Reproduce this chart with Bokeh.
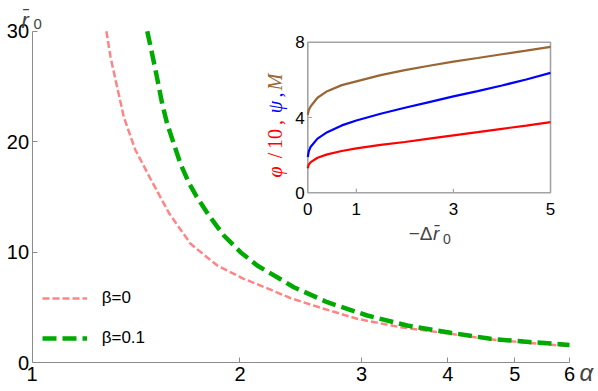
import numpy as np
from bokeh.plotting import figure
from bokeh.models import (Range1d, LinearScale, FixedTicker, PrintfTickFormatter,
                          Legend, LegendItem, Label)
from bokeh.core.properties import value
from bokeh.embed import file_html
from bokeh.resources import INLINE

# ---------------- data ----------------
# main plot: r0 vs alpha (log x axis)
alpha_b0 = [1.281, 1.299, 1.328, 1.358, 1.410, 1.478, 1.580, 1.696, 1.854, 2.025,
            2.214, 2.367, 2.645, 2.956, 3.415, 4.035, 4.611, 5.153, 6.0]
r0_b0 = [30.0, 27.65, 24.93, 22.22, 19.30, 16.85, 13.50, 10.77, 8.80, 7.60,
         6.62, 5.85, 4.89, 3.98, 3.22, 2.62, 2.12, 1.84, 1.50]

alpha_b01 = [1.468, 1.492, 1.518, 1.543, 1.569, 1.604, 1.640, 1.686, 1.730, 1.803,
             1.895, 2.003, 2.118, 2.264, 2.393, 2.675, 3.057, 3.493, 4.035, 4.611,
             5.153, 6.0]
r0_b01 = [30.0, 27.96, 25.69, 23.43, 21.62, 19.81, 18.00, 16.30, 15.05, 13.33,
          11.52, 10.01, 8.80, 7.74, 6.84, 5.48, 4.28, 3.37, 2.72, 2.17,
          1.92, 1.62]

x_ticks = [1, 2, 3, 4, 5, 6]
y_ticks = [0, 10, 20, 30]
x_lim = [1, 6]
y_lim = [0, 30]
legend_labels = ["β=0", "β=0.1"]

# inset: phi/10, psi, M vs -delta r0
d_in = [0, 0.02, 0.06, 0.2, 0.4, 0.7, 1.0, 1.5, 2.0, 2.5, 3.0, 3.5, 4.0, 4.5, 5.0]
M_in = [4.15, 4.40, 4.60, 5.05, 5.40, 5.72, 5.92, 6.25, 6.52, 6.75, 6.97, 7.16, 7.36, 7.55, 7.75]
psi_in = [1.90, 2.20, 2.45, 2.88, 3.22, 3.58, 3.84, 4.20, 4.52, 4.82, 5.12, 5.40, 5.70, 6.02, 6.37]
phi10_in = [1.30, 1.50, 1.63, 1.86, 2.04, 2.22, 2.36, 2.55, 2.70, 2.88, 3.05, 3.22, 3.40, 3.57, 3.75]

inset_x_lim = [0, 5]
inset_y_lim = [0, 8]
inset_x_ticks = [0, 1, 3, 5]
inset_y_ticks = [0, 4, 8]

# ---------------- layout (canvas pixels) ----------------
W, H = 596, 389
MAIN_L, MAIN_R, MAIN_B, MAIN_T = 31.6, 569.0, 362.3, 30.7
INSET_L, INSET_R, INSET_T, INSET_B = 307.3, 550.0, 41.7, 192.3

# main ranges chosen so the frame covers the whole canvas
s = (MAIN_R - MAIN_L) / (np.log(x_lim[1]) - np.log(x_lim[0]))
xs = float(np.exp(np.log(x_lim[0]) - MAIN_L / s))
xe = float(np.exp(np.log(x_lim[1]) + (W - MAIN_R) / s))
k = (MAIN_B - MAIN_T) / (y_lim[1] - y_lim[0])
ys = y_lim[0] - (H - MAIN_B) / k
ye = y_lim[1] + MAIN_T / k

kx = (INSET_R - INSET_L) / (inset_x_lim[1] - inset_x_lim[0])
ky = (INSET_B - INSET_T) / (inset_y_lim[1] - inset_y_lim[0])
ix0 = inset_x_lim[0] - INSET_L / kx
ix1 = ix0 + W / kx
iy0 = inset_y_lim[0] - (H - INSET_B) / ky
iy1 = iy0 + H / ky

AX = "#8c8c8c"
PINK = "#ff8585"
GREEN = "#00aa00"
BROWN = "#996633"
SANS = "Liberation Sans"
SERIF = "Liberation Serif"

p = figure(width=W, height=H, x_axis_type="log",
           x_range=Range1d(xs, xe), y_range=Range1d(ys, ye),
           output_backend="svg", toolbar_location=None,
           min_border_left=0, min_border_right=0, min_border_top=0,
           min_border_bottom=0, outline_line_color=None,
           background_fill_color="white", border_fill_color="white")
p.grid.visible = False

p.extra_x_ranges = {"px": Range1d(0, W), "ix": Range1d(ix0, ix1)}
p.extra_x_scales = {"px": LinearScale(), "ix": LinearScale()}
p.extra_y_ranges = {"py": Range1d(H, 0), "iy": Range1d(iy0, iy1)}

for ax, ticks in ((p.xaxis[0], x_ticks), (p.yaxis[0], y_ticks)):
    ax.ticker = FixedTicker(ticks=ticks, minor_ticks=[])
    ax.formatter = PrintfTickFormatter(format="%d")
    ax.major_tick_in = 5
    ax.major_tick_out = 0
    ax.minor_tick_in = 0
    ax.minor_tick_out = 0
    ax.axis_line_color = AX
    ax.major_tick_line_color = AX
    ax.major_label_text_font = SANS
    ax.major_label_text_font_size = "20px"
    ax.major_label_text_color = "black"
p.xaxis.fixed_location = y_lim[0]
p.xaxis.bounds = (x_lim[0], x_lim[1])
p.yaxis.fixed_location = x_lim[0]
p.yaxis.bounds = (y_lim[0], y_lim[1])
p.xaxis.major_label_standoff = 4
p.yaxis.major_label_standoff = 3

# main curves
r_pink = p.line(alpha_b0, r0_b0, line_color=PINK, line_width=2.5, line_dash="7 3")
r_green = p.line(alpha_b01, r0_b01, line_color=GREEN, line_width=4.5, line_dash="14 6")

legend = Legend(items=[LegendItem(label=legend_labels[0], renderers=[r_pink]),
                       LegendItem(label=legend_labels[1], renderers=[r_green])],
                location=(41.7, H - 348.3), glyph_width=45, glyph_height=20, label_height=20,
                spacing=20, padding=0, margin=0, label_standoff=15,
                border_line_alpha=0, background_fill_alpha=0,
                label_text_font=SANS, label_text_font_size="17px",
                label_text_color="black")
p.add_layout(legend)

PR = dict(x_range_name="px", y_range_name="py")
# axis labels of the main plot
p.add_layout(Label(x=21, y=20, text="r\u0304", text_font=SANS, text_font_style="italic",
                   text_font_size="22px", text_align="left", text_baseline="alphabetic", **PR))
p.add_layout(Label(x=33, y=23, text="0", text_font=SANS, text_font_size="15px",
                   text_align="left", text_baseline="alphabetic", **PR))
p.add_layout(Label(x=579, y=372, text="α", text_font=SANS, text_font_style="italic",
                   text_font_size="24px", text_align="left", text_baseline="alphabetic", **PR))

# ---------------- inset ----------------
IR = dict(x_range_name="ix", y_range_name="iy")
p.quad(left=[inset_x_lim[0]], right=[inset_x_lim[1]], bottom=[inset_y_lim[0]],
       top=[inset_y_lim[1]], fill_color="white", line_color="#a3a3a3", line_width=1.6, **IR)
p.ray(x=inset_x_ticks[1:-1], y=[inset_y_lim[0]] * 2, length=4, length_units="screen",
      angle=np.pi / 2, line_color="#a3a3a3", line_width=1.2, **IR)
p.ray(x=[inset_x_lim[0]], y=inset_y_ticks[1:2], length=4, length_units="screen",
      angle=0, line_color="#a3a3a3", line_width=1.2, **IR)

p.line(d_in, M_in, line_color=BROWN, line_width=2.2, **IR)
p.line(d_in, psi_in, line_color="#0000ff", line_width=2.2, **IR)
p.line(d_in, phi10_in, line_color="#ff0000", line_width=2.2, **IR)

p.text(x=inset_x_ticks, y=[inset_y_lim[0]] * len(inset_x_ticks),
       text=[str(t) for t in inset_x_ticks], text_align="center", text_baseline="middle",
       y_offset=16, text_font=value(SANS), text_font_size=value("17px"),
       text_color="black", **IR)
p.text(x=[inset_x_lim[0]] * len(inset_y_ticks), y=inset_y_ticks,
       text=[str(t) for t in inset_y_ticks], text_align="right", text_baseline="middle",
       x_offset=-3, text_font=value(SANS), text_font_size=value("17px"),
       text_color="black", **IR)

# inset x label  "−Δr̄0"
p.add_layout(Label(x=432, y=233, text="−Δ", text_font=SANS, text_font_size="19px",
                   text_align="right", text_baseline="alphabetic", **PR))
p.add_layout(Label(x=432.5, y=233, text="r\u0304", text_font=SANS, text_font_style="italic",
                   text_font_size="19px", text_align="left", text_baseline="alphabetic", **PR))
p.add_layout(Label(x=442.5, y=238, text="0", text_font=SANS, text_font_size="14px",
                   text_align="left", text_baseline="alphabetic", **PR))

# inset y label  "φ/10, ψ, M" (coloured, rotated)
ylab_parts = [("φ", "italic", "#ff0000", 171.5), ("/", "normal", "#ff0000", 155.0),
              ("10", "normal", "#ff0000", 138.5), (",", "normal", "#ff0000", 122.0),
              ("ψ", "italic", "#0000ff", 106.5), (",", "normal", "#0000ff", 94.5),
              ("M", "italic", BROWN, 81.5)]
for txt, style, col, yc in ylab_parts:
    p.add_layout(Label(x=274, y=yc, text=txt, text_font=SERIF, text_font_style=style,
                       text_font_size="20px", text_color=col, angle=np.pi / 2,
                       text_align="center", text_baseline="middle", **PR))

open("out.html", "w").write(file_html(p, INLINE))
